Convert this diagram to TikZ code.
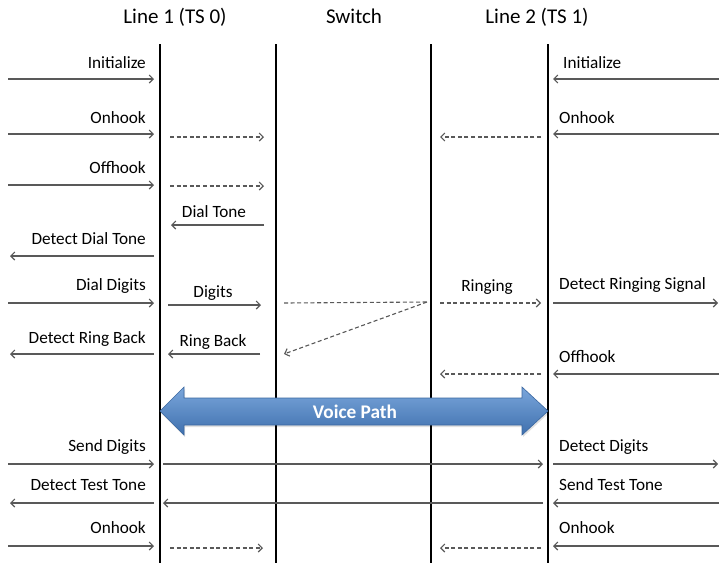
\documentclass[tikz,border=0pt]{standalone}
\usepackage{fontspec}
\setmainfont{Carlito}
\usetikzlibrary{arrows.meta}
\definecolor{arrowgray}{HTML}{595959}
\definecolor{vptop}{HTML}{7AA6DB}
\definecolor{vpbot}{HTML}{3F70AE}
\definecolor{vpedge}{HTML}{3A67A0}
\begin{document}
\begin{tikzpicture}[x=1pt,y=-1pt,
  msg/.style={draw=arrowgray, line width=1.1pt, -{Straight Barb[length=4pt,width=8pt]}},
  dmsg/.style={msg, dash pattern=on 4pt off 2.6pt},
  lifeline/.style={line width=2pt, black},
  lbl/.style={font=\fontsize{17.2}{20}\selectfont, inner sep=0pt, text=black},
  hdr/.style={font=\fontsize{21}{24}\selectfont, inner sep=0pt, text=black}]
\useasboundingbox (0,0) rectangle (719,563);

% headers
\node[hdr, anchor=base] (h1) at (175,23) {Line 1 (TS 0)};
\node[hdr, anchor=base] (h2) at (354,23) {Switch};
\node[hdr, anchor=base] (h3) at (537,23) {Line 2 (TS 1)};

% lifelines
\coordinate (L1t) at (160,44); \coordinate (L1b) at (160,563);
\coordinate (L2t) at (276,44); \coordinate (L2b) at (276,563);
\coordinate (L3t) at (431,44); \coordinate (L3b) at (431,563);
\coordinate (L4t) at (548,44); \coordinate (L4b) at (548,563);
\draw[lifeline] (L1t) -- (L1b);
\draw[lifeline] (L2t) -- (L2b);
\draw[lifeline] (L3t) -- (L3b);
\draw[lifeline] (L4t) -- (L4b);

% row 1: Initialize
\coordinate (a1s) at (8,79);   \coordinate (a1e) at (154,79);
\coordinate (b1s) at (719,79); \coordinate (b1e) at (553,79);
\draw[msg] (a1s) -- (a1e);
\draw[msg] (b1s) -- (b1e);
\node[lbl, anchor=base east] (t1a) at (146,68) {Initialize};
\node[lbl, anchor=base west] (t1b) at (563,68) {Initialize};

% row 2: Onhook
\coordinate (a2s) at (8,134);   \coordinate (a2e) at (154,134);
\coordinate (c2s) at (170,137); \coordinate (c2e) at (264,137);
\coordinate (d2s) at (541,137); \coordinate (d2e) at (440,137);
\coordinate (b2s) at (719,134); \coordinate (b2e) at (553,134);
\draw[msg] (a2s) -- (a2e);
\draw[dmsg] (c2s) -- (c2e);
\draw[dmsg] (d2s) -- (d2e);
\draw[msg] (b2s) -- (b2e);
\node[lbl, anchor=base east] (t2a) at (146,123) {Onhook};
\node[lbl, anchor=base west] (t2b) at (559,123) {Onhook};

% row 3: Offhook
\coordinate (a3s) at (8,185);   \coordinate (a3e) at (154,185);
\coordinate (c3s) at (170,186); \coordinate (c3e) at (264,186);
\draw[msg] (a3s) -- (a3e);
\draw[dmsg] (c3s) -- (c3e);
\node[lbl, anchor=base east] (t3a) at (146,173) {Offhook};

% row 4: Dial Tone
\coordinate (c4s) at (264,225); \coordinate (c4e) at (171,225);
\draw[msg] (c4s) -- (c4e);
\node[lbl, anchor=base] (t4) at (214,217) {Dial Tone};

% row 5: Detect Dial Tone
\coordinate (a5s) at (154,256); \coordinate (a5e) at (10,256);
\draw[msg] (a5s) -- (a5e);
\node[lbl, anchor=base east] (t5) at (146,244) {Detect Dial Tone};

% row 6: Dial Digits / Digits / Ringing / Detect Ringing Signal
\coordinate (a6s) at (8,303);   \coordinate (a6e) at (154,303);
\coordinate (c6s) at (168,305); \coordinate (c6e) at (261,305);
\coordinate (sw) at (427,302);  \coordinate (sl) at (284,303);
\coordinate (rb) at (284,354);
\coordinate (d6s) at (440,303); \coordinate (d6e) at (541,303);
\coordinate (b6s) at (553,303); \coordinate (b6e) at (718,303);
\draw[msg] (a6s) -- (a6e);
\draw[msg] (c6s) -- (c6e);
\draw[draw=arrowgray, line width=1.1pt, dash pattern=on 4pt off 2.6pt] (sl) -- (sw);
\draw[dmsg] (sw) -- (rb);
\draw[dmsg] (d6s) -- (d6e);
\draw[msg] (b6s) -- (b6e);
\node[lbl, anchor=base east] (t6a) at (146,290) {Dial Digits};
\node[lbl, anchor=base] (t6b) at (213,297) {Digits};
\node[lbl, anchor=base] (t6c) at (487,291) {Ringing};
\node[lbl, anchor=base west] (t6d) at (559,289) {Detect Ringing Signal};

% row 7: Detect Ring Back / Ring Back
\coordinate (a7s) at (154,354); \coordinate (a7e) at (10,354);
\coordinate (c7s) at (260,354); \coordinate (c7e) at (168,354);
\draw[msg] (a7s) -- (a7e);
\draw[msg] (c7s) -- (c7e);
\node[lbl, anchor=base east] (t7a) at (146,343) {Detect Ring Back};
\node[lbl, anchor=base] (t7b) at (213,346) {Ring Back};

% row 8: Offhook (right)
\coordinate (b8s) at (719,374); \coordinate (b8e) at (553,374);
\coordinate (d8s) at (541,374); \coordinate (d8e) at (440,374);
\draw[msg] (b8s) -- (b8e);
\draw[dmsg] (d8s) -- (d8e);
\node[lbl, anchor=base west] (t8) at (559,362) {Offhook};

% Voice path
\fill[black, opacity=0.12] (161,413) -- (185,389) -- (185,400) -- (523,400) -- (523,389) -- (549,413)
   -- (523,437) -- (523,427) -- (185,427) -- (185,437) -- cycle;
\shade[top color=vptop, bottom color=vpbot, draw=vpedge, line width=0.6pt]
   (160,411) -- (184,387) -- (184,398) -- (522,398) -- (522,387) -- (548,411)
   -- (522,435) -- (522,425) -- (184,425) -- (184,435) -- cycle;
\node[font=\fontsize{19.3}{22}\selectfont\bfseries, text=white, inner sep=0pt, anchor=base] (vp) at (355,418) {Voice Path};

% row 10: Send Digits / Detect Digits
\coordinate (a10s) at (8,464);   \coordinate (a10e) at (154,464);
\coordinate (c10s) at (163,464); \coordinate (c10e) at (543,464);
\coordinate (b10s) at (553,464); \coordinate (b10e) at (718,464);
\draw[msg] (a10s) -- (a10e);
\draw[msg] (c10s) -- (c10e);
\draw[msg] (b10s) -- (b10e);
\node[lbl, anchor=base east] (t10a) at (146,451) {Send Digits};
\node[lbl, anchor=base west] (t10b) at (559,451) {Detect Digits};

% row 11: Detect Test Tone / Send Test Tone
\coordinate (a11s) at (154,503); \coordinate (a11e) at (10,503);
\coordinate (c11s) at (543,503); \coordinate (c11e) at (163,503);
\coordinate (b11s) at (719,503); \coordinate (b11e) at (553,503);
\draw[msg] (a11s) -- (a11e);
\draw[msg] (c11s) -- (c11e);
\draw[msg] (b11s) -- (b11e);
\node[lbl, anchor=base east] (t11a) at (146,490) {Detect Test Tone};
\node[lbl, anchor=base west] (t11b) at (559,490) {Send Test Tone};

% row 12: Onhook
\coordinate (a12s) at (8,546);   \coordinate (a12e) at (154,546);
\coordinate (c12s) at (170,548); \coordinate (c12e) at (263,548);
\coordinate (d12s) at (541,548); \coordinate (d12e) at (440,548);
\coordinate (b12s) at (719,546); \coordinate (b12e) at (553,546);
\draw[msg] (a12s) -- (a12e);
\draw[dmsg] (c12s) -- (c12e);
\draw[dmsg] (d12s) -- (d12e);
\draw[msg] (b12s) -- (b12e);
\node[lbl, anchor=base east] (t12a) at (146,533) {Onhook};
\node[lbl, anchor=base west] (t12b) at (559,533) {Onhook};
\end{tikzpicture}
\end{document}
